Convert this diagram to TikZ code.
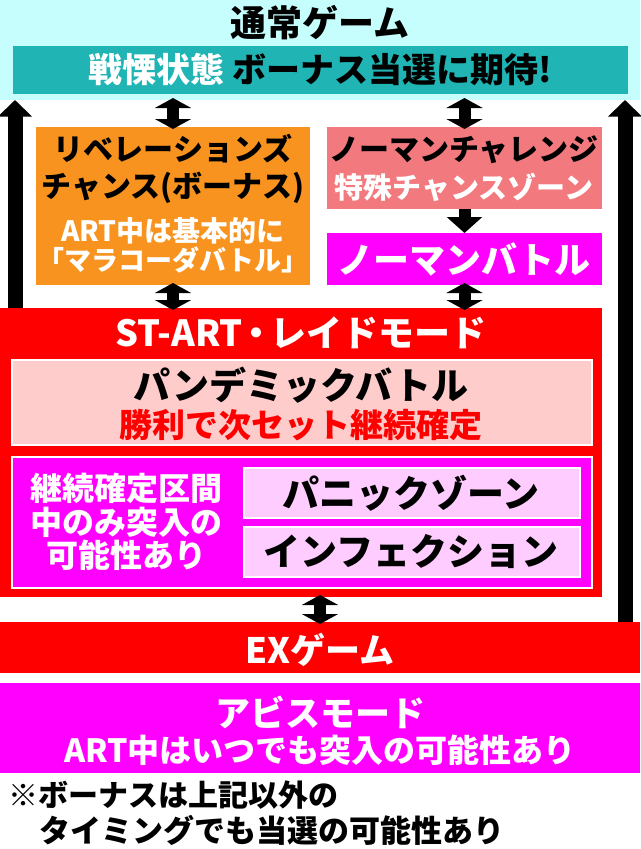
\documentclass[tikz,border=0pt]{standalone}
\usepackage{fontspec}
\setmainfont{Noto Sans CJK JP}[UprightFont=* Black]
\usetikzlibrary{arrows.meta,fit}
\definecolor{cyanbg}{HTML}{C6FEFE}
\definecolor{tealbar}{HTML}{20B4B4}
\definecolor{orangebox}{HTML}{F7931E}
\definecolor{salmon}{HTML}{F27A7E}
\definecolor{mag}{HTML}{FF00FF}
\definecolor{redbox}{HTML}{FF0000}
\definecolor{lpink}{HTML}{FFCCCC}
\definecolor{lmag}{HTML}{FFCCFF}
\newcommand{\fz}[1]{\fontsize{#1}{#1}\selectfont}
\tikzset{
  box/.style={inner sep=0pt, outer sep=0pt},
  txt/.style={inner sep=0pt, outer sep=0pt, anchor=center},
  dbl/.style={line width=9pt, shorten <=-1.5pt, shorten >=-1.5pt, {Triangle[width=27pt,length=7.5pt]}-{Triangle[width=27pt,length=7.5pt]}},
  sgl/.style={line width=9pt, -{Triangle[width=26pt,length=12pt]}},
  big/.style={line width=11.25pt, -{Triangle[width=25pt,length=12.5pt]}},
}
\begin{document}
\begin{tikzpicture}[x=0.75pt,y=-0.75pt]
\fill[white] (0,0) rectangle (640,849);
\useasboundingbox (0,0) rectangle (640,849);
% top area
\node[box, fill=cyanbg, fit={(0,0) (640,100)}] (normal) {};
\node[txt, font=\fz{27}] (normaltitle) at (320,23) {通常ゲーム};
\node[box, fill=tealbar, fit={(13,46) (628,94)}] (teal) {};
\node[txt, font=\fz{25.5}] (tealtext) at (320,70) {\textcolor{white}{戦慄状態}\hspace{6pt}ボーナス当選に期待!};
% orange box
\node[box, fill=orangebox, fit={(36,127) (310,285)}] (rev) {};
\node[txt, font=\fz{22.5}] (rev1) at (173,149) {リベレーションズ};
\node[txt, font=\fz{22.5}] (rev2) at (173,188) {チャンス(ボーナス)};
\node[txt, font=\fz{21}, text=white] (rev3) at (173,231) {ART中は基本的に};
\node[txt, font=\fz{20.25}, text=white] (rev4) at (173,260) {「マラコーダバトル」};
% pink box
\node[box, fill=salmon, fit={(327,127) (602,209)}] (chal) {};
\node[txt, font=\fz{22.5}] (chal1) at (464,150) {ノーマンチャレンジ};
\node[txt, font=\fz{21.75}, text=white] (chal2) at (464,187) {特殊チャンスゾーン};
% norman battle
\node[box, fill=mag, fit={(327,233) (602,285)}] (nb) {};
\node[txt, font=\fz{27}, text=white] (nbt) at (464,259) {ノーマンバトル};
% raid
\node[box, fill=redbox, fit={(0,308) (602,597)}] (raid) {};
\node[txt, font=\fz{27}, text=white] (raidt) at (301,333) {ST-ART\hspace{-3pt}・\hspace{-3pt}レイドモード};
\node[box, fill=lpink, draw=white, line width=1.5pt, fit={(12,360) (592,445)}] (pan) {};
\node[txt, font=\fz{27.75}] (pan1) at (301,385) {パンデミックバトル};
\node[txt, font=\fz{24.75}, text=redbox] (pan2) at (301,425) {勝利で次セット継続確定};
\node[box, fill=mag, draw=white, line width=1.5pt, fit={(12,457) (592,588)}] (zone) {};
\node[txt, font=\fz{24}, text=white] (zone1) at (126,488) {継続確定区間};
\node[txt, font=\fz{24}, text=white] (zone2) at (126,522) {中のみ突入の};
\node[txt, font=\fz{24}, text=white] (zone3) at (126,555) {可能性あり};
\node[box, fill=lmag, draw=white, line width=1.2pt, fit={(244,468) (580,518)}] (panic) {};
\node[txt, font=\fz{27.75}] (panict) at (411,493) {パニックゾーン};
\node[box, fill=lmag, draw=white, line width=1.2pt, fit={(244,527) (580,577)}] (inf) {};
\node[txt, font=\fz{27.75}] (inft) at (411,552) {インフェクション};
% EX
\node[box, fill=redbox, fit={(0,622) (640,673)}] (ex) {};
\node[txt, font=\fz{26.25}, text=white] (ext) at (320,650) {EXゲーム};
% abyss
\node[box, fill=mag, fit={(0,683) (640,773)}] (aby) {};
\node[txt, font=\fz{26.25}, text=white] (aby1) at (320,712) {アビスモード};
\node[txt, font=\fz{24}, text=white] (aby2) at (320,750) {ART中はいつでも突入の可能性あり};
% footnote
\node[txt, anchor=west, font=\fz{22.5}] (note1) at (8,795) {※ボーナスは上記以外の};
\node[txt, anchor=west, font=\fz{23.25}] (note2) at (39,830) {タイミングでも当選の可能性あり};
% connectors
\draw[dbl] (rev.north) -- (rev.north |- normal.south);
\draw[dbl] (chal.north) -- (chal.north |- normal.south);
\draw[sgl] (chal.south) -- (nb.north);
\draw[dbl] (rev.south) -- (rev.south |- raid.north);
\draw[dbl] (nb.south) -- (nb.south |- raid.north);
\draw[dbl] (ex.north) -- (ex.north |- raid.south);
\coordinate (lbot) at (15,308);
\coordinate (ltop) at (15,100);
\coordinate (rbot) at (625,622);
\coordinate (rtop) at (625,100);
\draw[big] (lbot) -- (ltop);
\draw[big] (rbot) -- (rtop);
\end{tikzpicture}
\end{document}
